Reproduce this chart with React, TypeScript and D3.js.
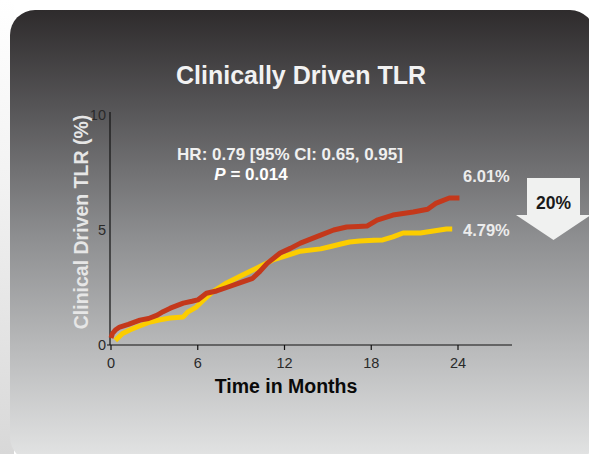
import React, { useEffect, useRef } from 'react';
import * as d3 from 'd3';

// Kaplan-Meier style cumulative curves (month, %)
const redMonths = [0, 0.1, 0.3, 0.6, 1.2, 2, 2.6, 3.2, 3.6, 4.1, 5, 5.6, 6, 6.6, 7.3, 8, 8.9, 9.8, 10.3, 10.8, 11.7, 12.4, 13.1, 14.5, 15.4, 16.3, 17.1, 17.7, 18.4, 19.5, 20.2, 20.9, 21.9, 22.5, 23.4, 24.1];
const redValues = [0.3, 0.5, 0.65, 0.78, 0.9, 1.08, 1.15, 1.3, 1.45, 1.6, 1.82, 1.9, 1.96, 2.25, 2.35, 2.5, 2.7, 2.9, 3.2, 3.55, 4.0, 4.2, 4.43, 4.78, 5.0, 5.13, 5.15, 5.17, 5.43, 5.65, 5.72, 5.78, 5.9, 6.17, 6.39, 6.39];
const yellowMonths = [0.3, 0.8, 1.3, 1.8, 2.7, 3.4, 4.1, 5, 5.3, 5.9, 6.4, 7, 8, 9.1, 10.1, 11.2, 12.2, 13.1, 14.5, 15.2, 15.9, 16.5, 17.2, 18.2, 18.8, 19.5, 20.2, 21.4, 22.3, 23.2, 23.6];
const yellowValues = [0.2, 0.5, 0.65, 0.78, 1.0, 1.1, 1.17, 1.22, 1.43, 1.65, 1.96, 2.3, 2.7, 3.04, 3.35, 3.7, 3.9, 4.08, 4.18, 4.28, 4.39, 4.48, 4.52, 4.55, 4.57, 4.7, 4.87, 4.87, 4.96, 5.04, 5.04];

const xTicks = [0, 6, 12, 18, 24];
const yTicks = [0, 5, 10];
const endLabels = ['6.01%', '4.79%'];

const App: React.FC = () => {
  const svgRef = useRef<SVGSVGElement>(null);

  useEffect(() => {
    if (!svgRef.current) return;
    const width = 589;
    const height = 454;
    const svg = d3.select(svgRef.current).attr('width', width).attr('height', height).html('');

    const defs = svg.append('defs');
    const grad = defs.append('linearGradient').attr('id', 'panelGrad')
      .attr('x1', 0).attr('y1', 0).attr('x2', 0).attr('y2', 1);
    [['0', '#2e2b2c'], ['0.22', '#575658'], ['0.5', '#8d8e90'], ['0.75', '#b9babb'], ['1', '#e4e5e5']]
      .forEach(([o, c]) => grad.append('stop').attr('offset', o).attr('stop-color', c));
    const side = defs.append('linearGradient').attr('id', 'sideGrad')
      .attr('x1', 0).attr('y1', 0).attr('x2', 0).attr('y2', 1);
    [['0', '#ffffff'], ['0.4', '#f2f2f2'], ['1', '#d8d8d8']]
      .forEach(([o, c]) => side.append('stop').attr('offset', o).attr('stop-color', c));

    svg.append('rect').attr('width', width).attr('height', height).attr('fill', '#ffffff');
    svg.append('rect').attr('x', 0).attr('y', 0).attr('width', 14).attr('height', height).attr('fill', 'url(#sideGrad)');
    svg.append('rect').attr('x', 10).attr('y', 10).attr('width', 585).attr('height', 452)
      .attr('rx', 25).attr('fill', 'url(#panelGrad)');

    const sans = "'Liberation Sans', Arial, sans-serif";

    // Title
    svg.append('text').attr('x', 301).attr('y', 84).attr('text-anchor', 'middle')
      .attr('font-family', sans).attr('font-weight', 'bold').attr('font-size', 25)
      .attr('fill', '#f2f2f2').text('Clinically Driven TLR');

    const x = d3.scaleLinear().domain([0, 24]).range([111, 458]);
    const y = d3.scaleLinear().domain([0, 10]).range([345, 115]);

    // Axes
    svg.append('line').attr('x1', 110).attr('x2', 110).attr('y1', 112).attr('y2', 345)
      .attr('stroke', '#111').attr('stroke-width', 1.2);
    svg.append('line').attr('x1', 107).attr('x2', 512).attr('y1', y(0)).attr('y2', y(0))
      .attr('stroke', '#111').attr('stroke-width', 1.2);

    svg.append('g').selectAll('line').data(xTicks).enter().append('line')
      .attr('x1', d => x(d)).attr('x2', d => x(d)).attr('y1', y(0)).attr('y2', y(0) + 5)
      .attr('stroke', '#111').attr('stroke-width', 1.2);
    svg.append('g').selectAll('text').data(xTicks).enter().append('text')
      .attr('x', d => x(d)).attr('y', 368).attr('text-anchor', 'middle')
      .attr('font-family', sans).attr('font-size', 14.5).attr('fill', '#2a2a2a')
      .text(d => String(d));
    svg.append('g').selectAll('text').data(yTicks).enter().append('text')
      .attr('x', 106).attr('y', d => y(d) + 5).attr('text-anchor', 'end')
      .attr('font-family', sans).attr('font-size', 14.5).attr('fill', '#2a2a2a')
      .text(d => String(d));

    svg.append('text').attr('x', 286).attr('y', 393).attr('text-anchor', 'middle')
      .attr('font-family', sans).attr('font-weight', 'bold').attr('font-size', 19.5)
      .attr('fill', '#0a0a0a').text('Time in Months');

    svg.append('text').attr('transform', 'translate(88,222) rotate(-90)').attr('text-anchor', 'middle')
      .attr('font-family', sans).attr('font-weight', 'bold').attr('font-size', 19.5)
      .attr('fill', '#e6e6e6').text('Clinical Driven TLR (%)');

    // Curves
    const line = d3.line<[number, number]>().x(d => x(d[0])).y(d => y(d[1])).curve(d3.curveLinear);
    const yellow = yellowMonths.map((m, i) => [m, yellowValues[i]] as [number, number]);
    const red = redMonths.map((m, i) => [m, redValues[i]] as [number, number]);
    svg.append('path').attr('d', line(yellow)).attr('fill', 'none')
      .attr('stroke', '#fccd00').attr('stroke-width', 5).attr('stroke-linejoin', 'round');
    svg.append('path').attr('d', line(red)).attr('fill', 'none')
      .attr('stroke', '#c4381b').attr('stroke-width', 5).attr('stroke-linejoin', 'round');

    // Annotations
    svg.append('text').attr('x', 290).attr('y', 160).attr('text-anchor', 'middle')
      .attr('font-family', sans).attr('font-weight', 'bold').attr('font-size', 17)
      .attr('fill', '#f0f0f0').text('HR: 0.79 [95% CI: 0.65, 0.95]');
    const p = svg.append('text').attr('x', 251).attr('y', 180).attr('text-anchor', 'middle')
      .attr('font-family', sans).attr('font-weight', 'bold').attr('font-size', 17).attr('fill', '#ffffff');
    p.append('tspan').attr('font-style', 'italic').text('P');
    p.append('tspan').text(' = 0.014');

    svg.append('g').selectAll('text').data(endLabels).enter().append('text')
      .attr('x', 463).attr('y', (d, i) => (i === 0 ? 182 : 236))
      .attr('font-family', sans).attr('font-weight', 'bold').attr('font-size', 16.5)
      .attr('fill', '#ececec').text(d => d);

    // Arrow
    svg.append('path')
      .attr('d', 'M527,178 L580,178 L580,215 L591,215 L553.5,240 L516,215 L527,215 Z')
      .attr('fill', '#f0f1f0');
    svg.append('text').attr('x', 553.5).attr('y', 209).attr('text-anchor', 'middle')
      .attr('font-family', sans).attr('font-weight', 'bold').attr('font-size', 17.5)
      .attr('fill', '#1a1a1a').text('20%');
  }, []);

  return <svg ref={svgRef} style={{ position: 'absolute', left: 0, top: 0 }}></svg>;
};

export default App;
